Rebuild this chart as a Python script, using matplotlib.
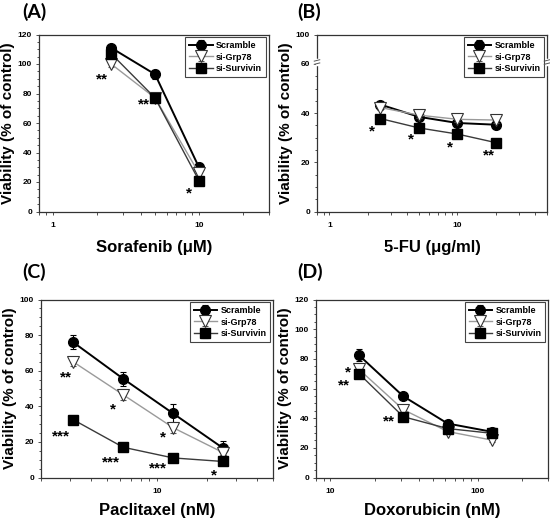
import numpy as np
import matplotlib
matplotlib.use("Agg")
import matplotlib.pyplot as plt
from matplotlib.ticker import FixedLocator, NullFormatter, LogLocator

plt.rcParams['font.family'] = ['Liberation Sans', 'DejaVu Sans']
plt.rcParams['font.weight'] = 'bold'

labels = ["Scramble", "si-Grp78", "si-Survivin"]

# (A) sorafenib
sora_dose = [2.5, 5, 10]
sora_scr = [111, 93, 30]
sora_grp = [100, 77, 26]
sora_sur = [107, 77, 21]
sora_err = [[2, 3, 3], [2, 1, 2], [2, 1, 1]]
sora_star_series = [1, 2, 2]
sora_star_idx = [0, 1, 2]
sora_star_txt = ["**", "**", "*"]
sora_star_off = [(-3, 10), (-5, 2), (-7, 8)]   # px: right edge, centre below point

# (B) 5-FU
fu_dose = [2.5, 5, 10, 20]
fu_scr = [43.5, 38.5, 36, 35.3]
fu_grp = [42.3, 39.2, 37.5, 37.2]
fu_sur = [37.8, 34, 31.5, 28]
fu_err = [[1, 1, 1, 1], [1, 1, 1, 1], [1, 1, 1, 1]]
fu_star_series = [2, 2, 2, 2]
fu_star_idx = [0, 1, 2, 3]
fu_star_txt = ["*", "*", "*", "**"]
fu_star_off = [(-5, 8), (-5, 7), (-5, 8), (-1, 8)]

# (C) paclitaxel
pac_dose = [3.125, 6.25, 12.5, 25]
pac_scr = [76, 55.5, 36, 16.5]
pac_grp = [65, 46.5, 28, 14]
pac_sur = [32.5, 17, 11, 9]
pac_err = [[4, 4, 5.5, 4], [2.5, 3, 3, 2], [1, 1, 1, 1]]
pac_star_series = [1, 1, 1, 2, 2, 2, 2]
pac_star_idx = [0, 1, 2, 0, 1, 2, 3]
pac_star_txt = ["**", "*", "*", "***", "***", "***", "*"]
pac_star_off = [(-1, 11), (-7, 10), (-7, 5), (-3, 12), (-3, 10), (-6, 6), (-6, 9)]

# (D) doxorubicin
dox_dose = [15.625, 31.25, 62.5, 125]
dox_scr = [82.5, 54.8, 36.4, 30.8]
dox_grp = [73, 45.8, 31, 25.2]
dox_sur = [70.1, 41, 33, 29.8]
dox_err = [[4, 2, 2, 2], [4, 2, 1, 1], [2, 1, 1, 1]]
dox_star_series = [1, 2, 2]
dox_star_idx = [0, 0, 1]
dox_star_txt = ["*", "**", "**"]
dox_star_off = [(-8, -2), (-9, 7), (-8, 0)]

styles = [
    dict(color='black', marker='o', mfc='black', mec='black', ms=7, lw=1.4, zorder=3),
    dict(color='#9a9a9a', marker='v', mfc='white', mec='#333333', ms=8, mew=0.8, lw=1.0, zorder=4),
    dict(color='#3a3a3a', marker='s', mfc='black', mec='black', ms=6.5, lw=1.0, zorder=5),
]
ecolors = ['black', '#555555', '#333333']

W, H = 550, 520
fig = plt.figure(figsize=(W / 100, H / 100), dpi=100)
STAR_FS = 11


def add_ax(l, r, t, b):
    return fig.add_axes([l / W, 1 - b / H, (r - l) / W, (b - t) / H])


def style_axes(ax):
    for s in ax.spines.values():
        s.set_color('#333333')
        s.set_linewidth(0.9)
    ax.tick_params(which='both', direction='out', labelsize=6, color='#333333', width=0.6)
    ax.tick_params(which='major', length=2.5)
    ax.tick_params(which='minor', length=1.8)
    ax.tick_params(axis='x', pad=5)
    ax.tick_params(axis='y', pad=2.5)


def panel(ax, dose, ys, errs, star_series, star_idx, star_txt, star_off,
          xlim, xticks, xlabel, xlab_y):
    ax.set_xscale('log')
    for i in range(3):
        ax.errorbar(dose, ys[i], yerr=errs[i], ecolor=ecolors[i], elinewidth=0.8,
                    capsize=2.5, capthick=0.8, label=labels[i], **styles[i])
    # asterisk centre sits ~0.59 em above the baseline
    lift = 0.59 * STAR_FS * 100 / 72
    for s, k, t, (dx, dy) in zip(star_series, star_idx, star_txt, star_off):
        ax.annotate(t, (dose[k], ys[s][k]), xytext=(dx, -(dy + lift)),
                    textcoords='offset pixels', ha='right', va='baseline',
                    fontsize=STAR_FS, fontweight='bold', zorder=8)
    ax.set_xlim(*xlim)
    ax.set_xticks(xticks)
    ax.set_xticklabels([str(int(v)) for v in xticks])
    ax.xaxis.set_minor_locator(LogLocator(base=10, subs=np.arange(2, 10)))
    ax.xaxis.set_minor_formatter(NullFormatter())
    ax.set_xlabel(xlabel, fontsize=12, fontweight='bold')
    ax.xaxis.set_label_coords(0.5, xlab_y)
    ax.xaxis.label.set_va('center')
    ax.set_ylabel("Viability (% of control)", fontsize=11, fontweight='bold')
    ax.yaxis.set_label_coords(-0.105, 0.5)
    leg = ax.legend(loc='upper right', fontsize=6.5, handlelength=2.6, borderaxespad=0.3,
                    labelspacing=0.3, handletextpad=0.4, borderpad=0.4, fancybox=False,
                    framealpha=1)
    leg.get_frame().set_edgecolor('#444444')
    leg.get_frame().set_linewidth(0.8)
    style_axes(ax)


# A
axA = add_ax(39, 268.5, 34.5, 211.5)
panel(axA, sora_dose, [sora_scr, sora_grp, sora_sur], sora_err,
      sora_star_series, sora_star_idx, sora_star_txt, sora_star_off,
      (0.8, 30), [1, 10], "Sorafenib (\u03bcM)", -0.206)
axA.set_ylim(0, 120)
axA.set_yticks(np.arange(0, 121, 20))
axA.yaxis.set_minor_locator(FixedLocator(np.arange(0, 121, 5)))

# B with broken y axis
axB = add_ax(317, 547, 34.5, 211.5)


def fwd(y):
    y = np.asarray(y, dtype=float)
    return np.where(y <= 60, y, 60 + (y - 60) * 0.3)


def inv(t):
    t = np.asarray(t, dtype=float)
    return np.where(t <= 60, t, 60 + (t - 60) / 0.3)


axB.set_yscale('function', functions=(fwd, inv))
panel(axB, fu_dose, [fu_scr, fu_grp, fu_sur], fu_err,
      fu_star_series, fu_star_idx, fu_star_txt, fu_star_off,
      (0.8, 50), [1, 10], "5-FU (\u03bcg/ml)", -0.206)
axB.set_ylim(0, 100)
axB.set_yticks([0, 20, 40, 60, 100])
axB.yaxis.set_minor_locator(FixedLocator(np.arange(0, 61, 5)))
yb = 60.8 / 72
for xs in (0, 1):
    axB.plot([xs, xs], [yb - 0.009, yb + 0.009], color='white', lw=2.5,
             transform=axB.transAxes, clip_on=False, zorder=10)
    for dy in (-0.009, 0.009):
        axB.plot([xs - 0.012, xs + 0.012], [yb + dy - 0.004, yb + dy + 0.004], color='#555555',
                 lw=0.7, transform=axB.transAxes, clip_on=False, zorder=11)

# C
axC = add_ax(41, 273, 299.5, 477.5)
panel(axC, pac_dose, [pac_scr, pac_grp, pac_sur], pac_err,
      pac_star_series, pac_star_idx, pac_star_txt, pac_star_off,
      (2, 50), [10], "Paclitaxel (nM)", -0.183)
axC.set_ylim(0, 100)
axC.set_yticks(np.arange(0, 101, 20))
axC.yaxis.set_minor_locator(FixedLocator(np.arange(0, 101, 5)))

# D
axD = add_ax(316, 548, 299.5, 477.5)
panel(axD, dox_dose, [dox_scr, dox_grp, dox_sur], dox_err,
      dox_star_series, dox_star_idx, dox_star_txt, dox_star_off,
      (8, 300), [10, 100], "Doxorubicin (nM)", -0.183)
axD.set_ylim(0, 120)
axD.set_yticks(np.arange(0, 121, 20))
axD.yaxis.set_minor_locator(FixedLocator(np.arange(0, 121, 5)))

for txt, x, y in [("(A)", 22, 12), ("(B)", 297, 12), ("(C)", 22, 272), ("(D)", 297, 272)]:
    fig.text(x / W, 1 - y / H, txt, ha='left', va='center', fontsize=14,
             fontweight='bold', family=['Lato', 'DejaVu Sans'])

fig.savefig("out.png", dpi=100)
